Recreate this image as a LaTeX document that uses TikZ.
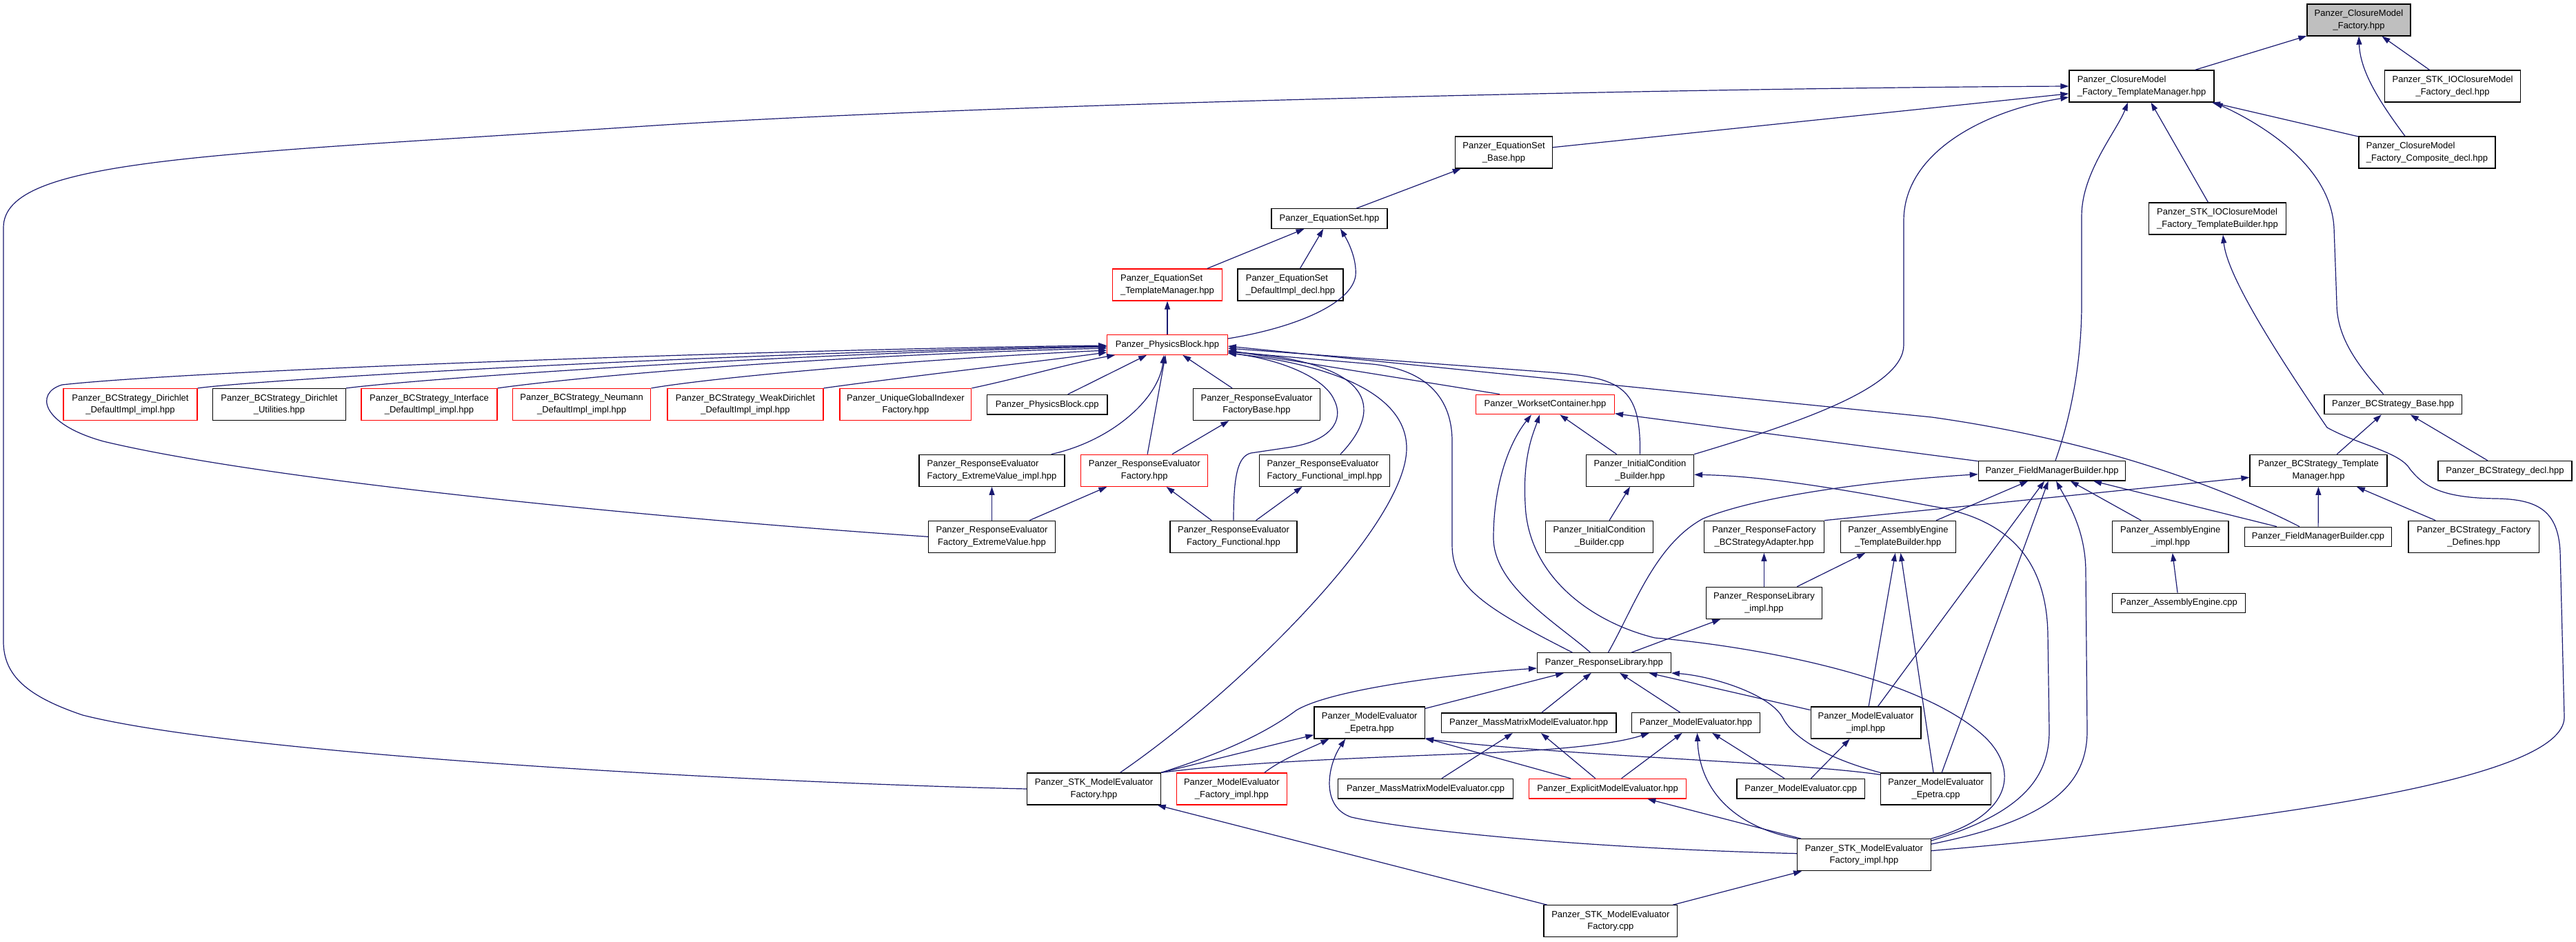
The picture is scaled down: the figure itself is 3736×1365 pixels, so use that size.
\documentclass[tikz,border=0pt]{standalone}
\usepackage{fontspec}
\setmainfont{Liberation Sans}
\usetikzlibrary{arrows.meta,calc}
\definecolor{edgecol}{HTML}{191970}
\definecolor{grayfill}{HTML}{BFBFBF}
\begin{document}
\begin{tikzpicture}[x=1pt,y=-1pt,
  bx/.style={draw=black, line width=1.3pt, fill=white, inner sep=0pt, align=center,
    font=\fontsize{13}{17.5}\selectfont},
  b2/.style={bx, minimum height=46pt},
  b1/.style={bx, minimum height=28.5pt},
  rd/.style={draw=red},
  gry/.style={fill=grayfill},
  edg/.style={draw=edgecol, line width=1.2pt, -{Triangle[length=12pt,width=8pt]}}]
\fill[white] (0,0) rectangle (3736,1365);
\useasboundingbox (0,0) rectangle (3736,1365);

% ---------- nodes ----------
\node[b2,gry,minimum width=150pt] (cmf) at (3421,29) {Panzer\_ClosureModel\\\_Factory.hpp};
\node[b2,minimum width=210pt,align=left] (tm) at (3106,125) {Panzer\_ClosureModel\\\_Factory\_TemplateManager.hpp};
\node[b2,minimum width=197pt] (stkdecl) at (3557,125) {Panzer\_STK\_IOClosureModel\\\_Factory\_decl.hpp};
\node[b2,minimum width=198pt,align=left] (comp) at (3520,221) {Panzer\_ClosureModel\\\_Factory\_Composite\_decl.hpp};
\node[b2,minimum width=199pt,align=left] (stktb) at (3216,317) {Panzer\_STK\_IOClosureModel\\\_Factory\_TemplateBuilder.hpp};
\node[b2,minimum width=141pt] (esb) at (2181,221) {Panzer\_EquationSet\\\_Base.hpp};
\node[b1,minimum width=168pt] (es) at (1928,317) {Panzer\_EquationSet.hpp};
\node[b2,rd,minimum width=159pt,align=left] (estm) at (1693,413) {Panzer\_EquationSet\\\_TemplateManager.hpp};
\node[b2,minimum width=153pt,align=left] (esdi) at (1871.5,413) {Panzer\_EquationSet\\\_DefaultImpl\_decl.hpp};
\node[b1,rd,minimum width=174.4pt] (pb) at (1693,500) {Panzer\_PhysicsBlock.hpp};
\node[b2,rd,minimum width=194pt] (bcdd) at (189,586.5) {Panzer\_BCStrategy\_Dirichlet\\\_DefaultImpl\_impl.hpp};
\node[b2,minimum width=193pt] (bcdu) at (405,586.5) {Panzer\_BCStrategy\_Dirichlet\\\_Utilities.hpp};
\node[b2,rd,minimum width=197pt] (bcid) at (622.5,586.5) {Panzer\_BCStrategy\_Interface\\\_DefaultImpl\_impl.hpp};
\node[b2,rd,minimum width=200pt] (bcnd) at (843.7,586.5) {Panzer\_BCStrategy\_Neumann\\\_DefaultImpl\_impl.hpp};
\node[b2,rd,minimum width=226pt] (bcwd) at (1081,586.5) {Panzer\_BCStrategy\_WeakDirichlet\\\_DefaultImpl\_impl.hpp};
\node[b2,rd,minimum width=190.7pt] (ugi) at (1313.4,586.5) {Panzer\_UniqueGlobalIndexer\\Factory.hpp};
\node[b1,minimum width=174.6pt] (pbcpp) at (1518.7,586.7) {Panzer\_PhysicsBlock.cpp};
\node[b2,minimum width=184pt] (refb) at (1822.5,586.5) {Panzer\_ResponseEvaluator\\FactoryBase.hpp};
\node[b1,rd,minimum width=200.8pt] (wc) at (2241,586.5) {Panzer\_WorksetContainer.hpp};
\node[b1,minimum width=199.5pt] (bcb) at (3470.6,586.5) {Panzer\_BCStrategy\_Base.hpp};
\node[b2,minimum width=211pt,align=left] (evi) at (1438.5,682.3) {Panzer\_ResponseEvaluator\\Factory\_ExtremeValue\_impl.hpp};
\node[b2,rd,minimum width=184pt] (ref) at (1659.8,682.3) {Panzer\_ResponseEvaluator\\Factory.hpp};
\node[b2,minimum width=189.4pt,align=left] (fi) at (1921,682.3) {Panzer\_ResponseEvaluator\\Factory\_Functional\_impl.hpp};
\node[b2,minimum width=156pt] (icb) at (2378.5,682.3) {Panzer\_InitialCondition\\\_Builder.hpp};
\node[b1,minimum width=213.3pt] (fmb) at (2976,682.7) {Panzer\_FieldManagerBuilder.hpp};
\node[b2,minimum width=199pt] (bctm) at (3362.5,682.3) {Panzer\_BCStrategy\_Template\\Manager.hpp};
\node[b1,minimum width=194pt] (bcdecl) at (3633,682.7) {Panzer\_BCStrategy\_decl.hpp};
\node[b2,minimum width=183.5pt] (ev) at (1438.5,778.3) {Panzer\_ResponseEvaluator\\Factory\_ExtremeValue.hpp};
\node[b2,minimum width=184pt] (fn) at (1789,778.3) {Panzer\_ResponseEvaluator\\Factory\_Functional.hpp};
\node[b2,minimum width=156pt] (iccpp) at (2319.5,778.3) {Panzer\_InitialCondition\\\_Builder.cpp};
\node[b2,minimum width=174pt] (rfa) at (2558.4,778.3) {Panzer\_ResponseFactory\\\_BCStrategyAdapter.hpp};
\node[b2,minimum width=167.3pt] (aetb) at (2752.9,778.3) {Panzer\_AssemblyEngine\\\_TemplateBuilder.hpp};
\node[b2,minimum width=168.5pt] (aei) at (3147.8,778.3) {Panzer\_AssemblyEngine\\\_impl.hpp};
\node[b1,minimum width=213pt] (fmbcpp) at (3362,778.5) {Panzer\_FieldManagerBuilder.cpp};
\node[b2,minimum width=189.4pt] (bcfd) at (3587.7,778.3) {Panzer\_BCStrategy\_Factory\\\_Defines.hpp};
\node[b2,minimum width=168pt] (rli) at (2558.4,874.3) {Panzer\_ResponseLibrary\\\_impl.hpp};
\node[b1,minimum width=193pt] (aecpp) at (3160,874.5) {Panzer\_AssemblyEngine.cpp};
\node[b1,minimum width=193.6pt] (rl) at (2326.4,961) {Panzer\_ResponseLibrary.hpp};
\node[b2,minimum width=160.4pt] (mee) at (1986.2,1048) {Panzer\_ModelEvaluator\\\_Epetra.hpp};
\node[b1,minimum width=253.8pt] (mmh) at (2217.1,1048.2) {Panzer\_MassMatrixModelEvaluator.hpp};
\node[b1,minimum width=185.8pt] (meh) at (2459.5,1048) {Panzer\_ModelEvaluator.hpp};
\node[b2,minimum width=159.7pt] (mei) at (2706,1048) {Panzer\_ModelEvaluator\\\_impl.hpp};
\node[b2,minimum width=193.5pt] (stkf) at (1586.5,1144) {Panzer\_STK\_ModelEvaluator\\Factory.hpp};
\node[b2,rd,minimum width=159.6pt] (mefi) at (1786.4,1144) {Panzer\_ModelEvaluator\\\_Factory\_impl.hpp};
\node[b1,minimum width=253.7pt] (mmcpp) at (2067.5,1143.7) {Panzer\_MassMatrixModelEvaluator.cpp};
\node[b1,rd,minimum width=228pt] (expl) at (2331.7,1143.7) {Panzer\_ExplicitModelEvaluator.hpp};
\node[b1,minimum width=185.3pt] (mecpp) at (2611.7,1143.7) {Panzer\_ModelEvaluator.cpp};
\node[b2,minimum width=160pt] (meecpp) at (2807.6,1144) {Panzer\_ModelEvaluator\\\_Epetra.cpp};
\node[b2,minimum width=193.6pt] (stkfi) at (2703.4,1239.7) {Panzer\_STK\_ModelEvaluator\\Factory\_impl.hpp};
\node[b2,minimum width=193.7pt] (stkfcpp) at (2335.9,1335.8) {Panzer\_STK\_ModelEvaluator\\Factory.cpp};

% ---------- edges ----------
\draw[edg] (tm) -- (cmf);
\draw[edg] (stkdecl) -- (cmf);
\draw[edg] ($(comp.north)+(-32,0)$) .. controls (3445,140) and (3423,100) .. (cmf.south);
\draw[edg] (comp) -- (tm);
\draw[edg] (stktb) -- (tm);
\draw[edg] ($(fmb.north)+(5,0)$) .. controls (3005,600) and (3019,520) .. (3019,440) -- (3019,313) .. controls (3019,250) and (3070,190) .. ($(tm.south)+(-20,0)$);
\draw[edg] ($(bcb.north)+(-14,0)$) .. controls (3420,530) and (3389,490) .. (3389,440) -- (3385,330) .. controls (3380,240) and (3280,180) .. (tm.south east);
\draw[edg] (esb) -- (tm);
\draw[edg] (stkf.west) .. controls (1100,1135) and (350,1095) .. (120,1037) .. controls (40,1010) and (5,980) .. (5,930) -- (5,330) .. controls (5,230) and (300,225) .. (934,183) .. controls (1400,152) and (2400,128) .. (tm.west);
\draw[edg] (icb.north east) .. controls (2620,610) and (2761,560) .. (2761,500) -- (2761,320) .. controls (2761,220) and (2880,160) .. ($(tm.west)+(0,16)$);

% into PhysicsBlock from the left
\draw[edg] (ev.west) .. controls (1000,755) and (400,700) .. (150,640) .. controls (60,615) and (50,570) .. (90,558) .. controls (300,535) and (1200,505) .. ($(pb.west)+(0,1)$);
\draw[edg] (bcdd.north east) .. controls (400,548) and (1100,510) .. ($(pb.west)+(0,2)$);
\draw[edg] (bcdu.north east) .. controls (620,548) and (1150,512) .. ($(pb.west)+(0,3)$);
\draw[edg] (bcid.north east) .. controls (850,545) and (1200,515) .. ($(pb.west)+(0,5)$);
\draw[edg] (bcnd.north east) .. controls (1050,545) and (1350,520) .. ($(pb.west)+(0,8)$);
\draw[edg] (bcwd.north east) .. controls (1300,548) and (1500,525) .. ($(pb.west)+(0,11)$);
\draw[edg] (ugi.north east) .. controls (1480,548) and (1560,525) .. ($(pb.south west)+(12,0)$);
\draw[edg] (pbcpp) -- (pb);
\draw[edg] ($(evi.north east)+(-20,0)$) .. controls (1610,640) and (1680,580) .. ($(pb.south)+(-5,0)$);
\draw[edg] (ref) -- (pb);
\draw[edg] (refb) -- (pb);
% into PhysicsBlock from the right
\draw[edg] ($(wc.north)+(-66,0)$) -- ($(pb.east)+(0,8)$);
\draw[edg] ($(fmbcpp.north)+(-27,0)$) .. controls (3230,710) and (3050,640) .. (2802,605) -- ($(pb.east)+(0,2)$);
\draw[edg] (icb.north) .. controls (2380,560) and (2350,548) .. (2250,540) -- ($(pb.east)+(0,5)$);
\draw[edg] ($(rl.north)+(-46,0)$) .. controls (2150,880) and (2106,850) .. (2106,790) -- (2106,640) .. controls (2106,570) and (2060,535) .. (1990,528) -- ($(pb.east)+(0,10)$);
\draw[edg] ($(stkf.north)+(38,0)$) .. controls (1800,1000) and (2040,760) .. (2040,650) .. controls (2040,560) and (1900,525) .. ($(pb.east)+(0,12)$);
\draw[edg] ($(fi.north)+(23,0)$) .. controls (2010,590) and (1990,525) .. ($(pb.east)+(0,10)$);
\draw[edg] (fn.north) .. controls (1789,690) and (1795,662) .. (1814,657) -- (1868,649) .. controls (1930,640) and (1950,610) .. (1935,580) .. controls (1920,545) and (1850,520) .. ($(pb.east)+(0,12)$);

% EquationSet group
\draw[edg] ($(pb.east)+(0,-9)$) .. controls (1880,475) and (1960,440) .. (1966,400) .. controls (1968,375) and (1955,350) .. ($(es.south)+(16,0)$);
\draw[edg] (pb) -- (estm);
\draw[edg] (estm) -- (es);
\draw[edg] (esdi) -- (es);
\draw[edg] (es) -- (esb);

% ResponseEvaluator group
\draw[edg] (ref) -- (refb);
\draw[edg] (ev) -- (evi);
\draw[edg] (ev) -- (ref);
\draw[edg] (fn) -- (ref);
\draw[edg] (fn) -- (fi);

% InitialCondition / WorksetContainer
\draw[edg] (iccpp) -- (icb);
\draw[edg] (icb) -- (wc);
\draw[edg] (fmb) -- (wc);
\draw[edg] ($(rl.north)+(-20,0)$) .. controls (2260,905) and (2166,850) .. (2166,780) .. controls (2166,700) and (2190,640) .. ($(wc.south)+(-20,0)$);
\draw[edg] (stkfi.north east) .. controls (2915,1185) and (2930,1120) .. (2880,1070) .. controls (2780,975) and (2520,935) .. (2400,925) .. controls (2300,900) and (2215,830) .. (2212,730) .. controls (2208,660) and (2225,625) .. ($(wc.south)+(-8,0)$);
\draw[edg] ($(stkfi.north east)+(0,3)$) .. controls (2930,1180) and (2972,1130) .. (2972,1060) -- (2970,920) .. controls (2968,800) and (2900,750) .. (2802,734) .. controls (2650,705) and (2550,690) .. ($(icb.east)+(0,6)$);
\draw[edg] ($(stkfi.north east)+(0,8)$) .. controls (2970,1190) and (3027,1140) .. (3027,1060) -- (3025,830) .. controls (3025,770) and (3000,730) .. ($(fmb.south)+(6,0)$);
\draw[edg] ($(stkfi.east)+(0,-6)$) .. controls (3300,1190) and (3719,1130) .. (3719,1040) -- (3713,800) .. controls (3710,740) and (3680,724) .. (3620,723) .. controls (3540,722) and (3515,705) .. (3495,680) .. controls (3480,655) and (3420,645) .. (3375,620) .. controls (3300,510) and (3230,400) .. ($(stktb.south)+(8,0)$);

% BCStrategy group
\draw[edg] (bctm) -- (bcb);
\draw[edg] (bcdecl) -- (bcb);
\draw[edg] (fmbcpp) -- (bctm);
\draw[edg] (bcfd) -- (bctm);
\draw[edg] (rfa.north east) -- ($(bctm.west)+(0,10)$);

% FieldManagerBuilder / AssemblyEngine
\draw[edg] (aetb) -- (fmb);
\draw[edg] (aei) -- (fmb);
\draw[edg] (fmbcpp) -- (fmb);
\draw[edg] (mei) -- (fmb);
\draw[edg] (meecpp) -- (fmb);
\draw[edg] (aecpp) -- (aei);
\draw[edg] (rli) -- (rfa);
\draw[edg] (rli) -- (aetb);
\draw[edg] (rl) -- (rli);
\draw[edg] ($(rl.north)+(6,0)$) .. controls (2370,880) and (2400,790) .. (2470,752) .. controls (2560,715) and (2750,695) .. ($(fmb.west)+(0,5)$);
\draw[edg] (mei) -- (aetb);
\draw[edg] (meecpp) -- (aetb);

% ResponseLibrary / ModelEvaluators
\draw[edg] (meecpp.north west) .. controls (2650,1100) and (2600,1070) .. (2585,1040) .. controls (2565,1005) and (2480,980) .. (rl.south east);
\draw[edg] (mei) -- (rl);
\draw[edg] (stkf.north east) .. controls (1780,1090) and (1840,1060) .. (1880,1030) .. controls (1930,1000) and (2100,978) .. ($(rl.west)+(0,8)$);
\draw[edg] (stkf.north east) -- ($(mee.south west)+(0,-6)$);
\draw[edg] (stkf.north east) .. controls (1800,1105) and (2000,1098) .. (2150,1092) .. controls (2250,1088) and (2340,1080) .. ($(meh.south west)+(26,0)$);
\draw[edg] ($(mefi.north east)+(-33,0)$) .. controls (1860,1100) and (1900,1085) .. ($(mee.south west)+(22,0)$);
\draw[edg] ($(stkfi.west)+(0,-2)$) .. controls (2300,1230) and (2050,1205) .. (1960,1185) .. controls (1915,1170) and (1925,1110) .. ($(mee.south)+(-35,0)$);
\draw[edg] (expl) -- (mee);
\draw[edg] ($(meecpp.north west)+(0,3)$) .. controls (2600,1105) and (2300,1098) .. (mee.south east);
\draw[edg] (mee) -- (rl);
\draw[edg] (mmh) -- (rl);
\draw[edg] (meh) -- (rl);
\draw[edg] (mmcpp) -- (mmh);
\draw[edg] (expl) -- (mmh);
\draw[edg] (expl) -- (meh);
\draw[edg] (mecpp) -- (meh);
\draw[edg] (mecpp) -- (mei);
\draw[edg] (stkfi.north west) .. controls (2520,1200) and (2465,1150) .. ($(meh.south)+(2,0)$);
\draw[edg] (stkfi) -- (expl);
\draw[edg] (stkfcpp) -- (stkfi);
\draw[edg] (stkfcpp) -- (stkf);
\end{tikzpicture}
\end{document}
